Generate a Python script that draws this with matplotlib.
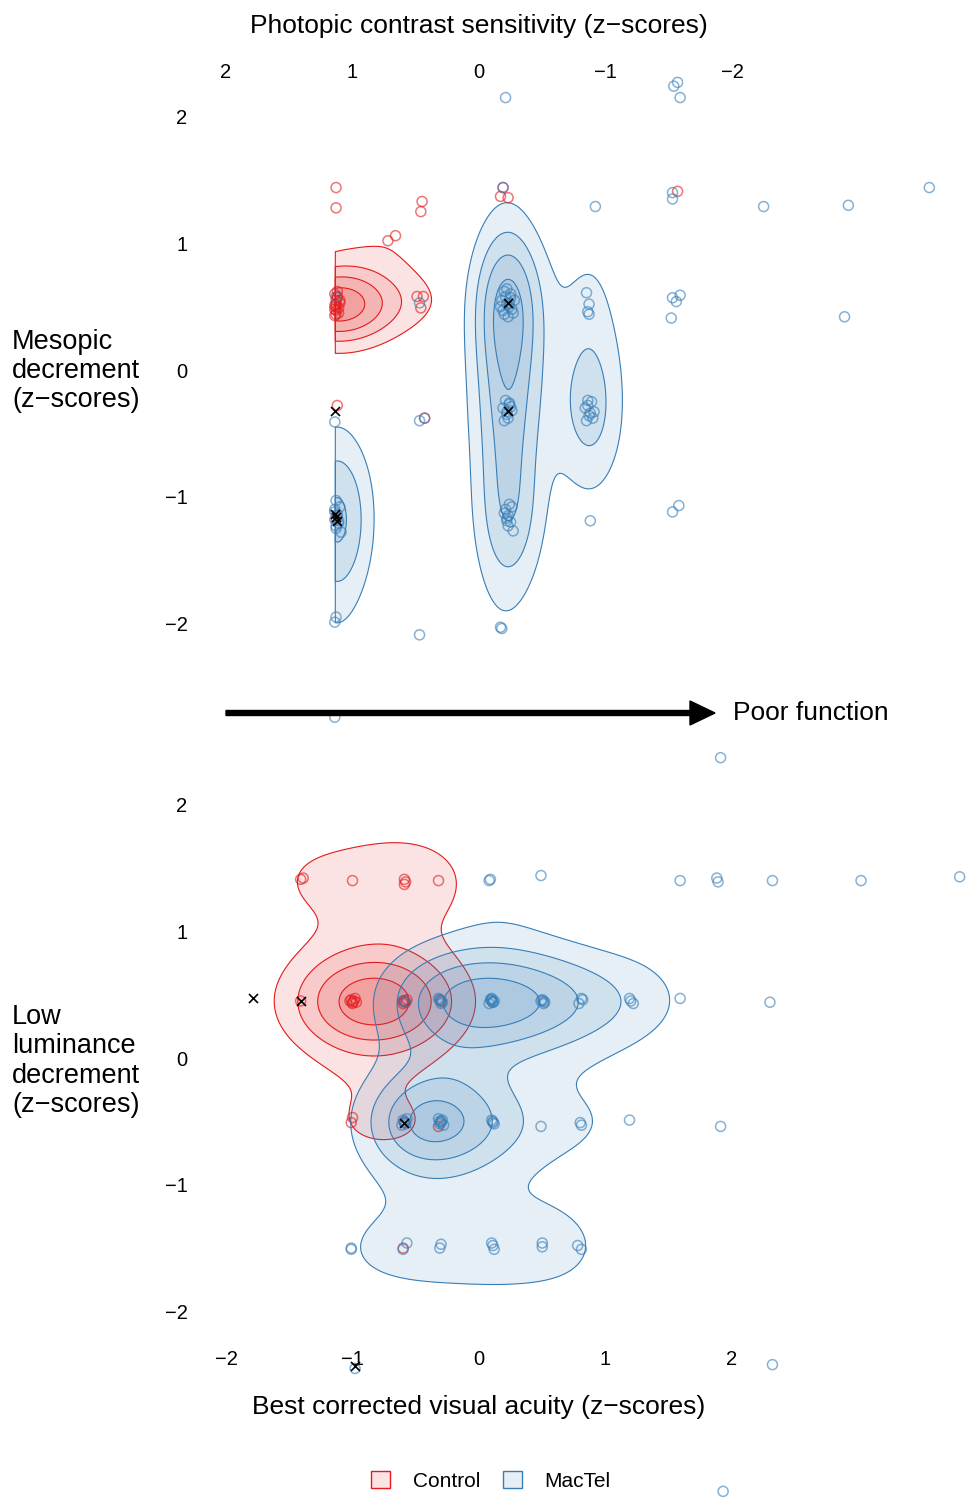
import numpy as np
import matplotlib
matplotlib.use('Agg')
import matplotlib.pyplot as plt
from matplotlib.patches import Patch, FancyArrow

plt.rcParams['font.family'] = ['Liberation Sans', 'DejaVu Sans']

RED = '#E41A1C'
BLUE = '#377EB8'

# ---- top panel: photopic contrast sensitivity (x, reversed) vs mesopic decrement (y)
ctl_top_x = [1.13, 1.13, 0.45, 0.46, 0.72, 0.66, -0.19, -0.17, -0.23, -1.57,
             1.14, 1.12, 1.13, 1.10, 1.13, 1.14, 1.11, 1.14, 1.12, 1.13, 1.13, 1.10,
             1.12, 1.14, 1.11, 1.13,
             0.49, 0.44, 0.46, 1.12, 0.43, 1.13]
ctl_top_y = [1.44, 1.28, 1.33, 1.25, 1.02, 1.06, 1.44, 1.37, 1.36, 1.41,
             0.60, 0.57, 0.55, 0.53, 0.50, 0.48, 0.45, 0.43, 0.58, 0.52, 0.47, 0.55,
             0.62, 0.51, 0.49, 0.44,
             0.58, 0.58, 0.49, -0.28, -0.38, -1.18]

mac_top_x = [-0.21, -1.54, -1.57, -1.59, -0.19, -0.92, -1.53, -1.53, -2.25, -2.92, -3.56,
             -0.85, -0.87, -0.86, -0.87, -1.53, -1.56, -1.59, -1.52, -2.89,
             -0.20, -0.25, -0.18, -0.28, -0.22, -0.24, -0.19, -0.27,
             -0.23, -0.21, -0.26, -0.17, -0.22, -0.24, -0.20, -0.25,
             -0.21, -0.24, -0.19, -0.26, -0.22, -0.23, -0.20, -0.25, -0.22, -0.24,
             -0.86, -0.89, -0.84, -0.91, -0.87, -0.90, -0.85, -0.88, -0.86,
             -0.24, -0.26, -0.20, -0.22, -0.25, -0.23, -0.27, -0.21, -0.23, -0.22,
             -0.88, -1.53, -1.58, -0.17, -0.18, 0.47, 1.14,
             1.13, 1.10, 1.14, 1.12, 1.14, 1.11, 1.13, 1.09, 1.12, 1.14, 1.11, 1.13,
             1.14, 1.13, 1.14, 0.47, 0.43, 0.47, 1.13]
mac_top_y = [2.15, 2.24, 2.27, 2.15, 1.44, 1.29, 1.40, 1.35, 1.29, 1.30, 1.44,
             0.61, 0.52, 0.46, 0.44, 0.57, 0.54, 0.59, 0.41, 0.42,
             0.62, 0.60, 0.55, 0.55, 0.52, 0.50, 0.47, 0.45,
             0.42, 0.58, 0.48, 0.50, 0.64, 0.53, 0.44, 0.57,
             -0.24, -0.27, -0.30, -0.32, -0.35, -0.38, -0.40, -0.29, -0.33, -0.26,
             -0.24, -0.25, -0.30, -0.33, -0.36, -0.38, -0.40, -0.34, -0.28,
             -1.06, -1.08, -1.13, -1.17, -1.20, -1.23, -1.27, -1.10, -1.15, -1.19,
             -1.19, -1.12, -1.07, -2.03, -2.04, -2.09, -2.74,
             -1.03, -1.08, -1.12, -1.15, -1.18, -1.21, -1.25, -1.28, -1.14, -1.10, -1.19, -1.23,
             -0.41, -1.95, -1.99, -0.40, -0.38, 0.53, 0.58]

cross_top_x = [1.14, 1.13, 1.14, 1.12, -0.23, -0.23]
cross_top_y = [-0.32, -1.16, -1.14, -1.19, 0.53, -0.32]

# ---- bottom panel: best corrected visual acuity (x) vs low luminance decrement (y)
ctl_bot_x = [-1.41, -1.39, -1.00, -0.59, -0.58, -0.59, -0.32,
             -1.41, -1.02, -1.00, -0.98, -0.97, -1.01, -0.99, -1.00,
             -0.60, -0.58, -0.57, -0.59, -0.60, -0.30,
             -1.01, -1.00, -0.59, -0.32, -0.60]
ctl_bot_y = [1.41, 1.42, 1.40, 1.41, 1.39, 1.37, 1.40,
             0.45, 0.45, 0.43, 0.47, 0.44, 0.46, 0.45, 0.44,
             0.45, 0.44, 0.46, 0.45, 0.43, 0.45,
             -0.51, -0.47, -0.51, -0.54, -1.50]

mac_bot_x = [0.08, 0.09, 0.49, 1.59, 1.88, 1.89, 2.32, 3.02, 3.80, 1.91,
             -0.60, -0.58,
             -0.31, -0.30, -0.32, -0.29, -0.30, -0.31,
             0.10, 0.09, 0.11, 0.10, 0.12, 0.08, 0.10, 0.11,
             0.51, 0.50, 0.52, 0.51, 0.49,
             0.81, 0.82, 0.79, 1.19, 1.22, 1.20, 1.59, 2.30,
             -0.59, -0.60, -0.58, -0.59, -0.61, -0.57,
             -0.30, -0.31, -0.29, -0.30, -0.28, -0.32, -0.31,
             0.11, 0.10, 0.12, 0.11,
             0.49, 0.80, 0.81, 1.19, 1.91,
             -1.01, -1.01, -0.60, -0.57, -0.31, -0.30,
             0.10, 0.11, 0.12, 0.50, 0.50, 0.78, 0.81,
             2.32, -0.98, 1.93]
mac_bot_y = [1.40, 1.41, 1.44, 1.40, 1.42, 1.39, 1.40, 1.40, 1.43, 2.37,
             0.45, 0.44,
             0.46, 0.45, 0.47, 0.44, 0.43, 0.46,
             0.45, 0.46, 0.44, 0.47, 0.45, 0.43, 0.46, 0.44,
             0.45, 0.46, 0.44, 0.43, 0.45,
             0.47, 0.46, 0.43, 0.47, 0.43, 0.45, 0.47, 0.44,
             -0.51, -0.49, -0.52, -0.50, -0.53, -0.48,
             -0.50, -0.52, -0.49, -0.51, -0.53, -0.48, -0.50,
             -0.51, -0.49, -0.52, -0.50,
             -0.54, -0.51, -0.53, -0.49, -0.54,
             -1.51, -1.50, -1.51, -1.46, -1.50, -1.47,
             -1.46, -1.48, -1.51, -1.46, -1.49, -1.48, -1.51,
             -2.42, -2.45, -3.42]

cross_bot_x = [-1.79, -1.41, -0.59, -0.98]
cross_bot_y = [0.47, 0.45, -0.51, -2.43]

ticks = [-2, -1, 0, 1, 2]
level_frac = [0.25, 0.45, 0.65, 0.85]


def kde2d(x, y, gx, gy, hx, hy):
    x = np.asarray(x)
    y = np.asarray(y)
    kx = np.exp(-0.5 * ((gx[:, None] - x[None, :]) / hx) ** 2) / (hx * np.sqrt(2 * np.pi))
    ky = np.exp(-0.5 * ((gy[:, None] - y[None, :]) / hy) ** 2) / (hy * np.sqrt(2 * np.pi))
    return ky @ kx.T / len(x)


def density_layers(ax, x, y, rng, bw, color):
    gx = np.linspace(rng[0], rng[1], 250)
    gy = np.linspace(rng[2], rng[3], 250)
    z = kde2d(x, y, gx, gy, *bw)
    fill = matplotlib.colors.to_rgba(color, 0.12)
    for f in level_frac:
        cs = ax.contourf(gx, gy, z, levels=[f * z.max(), z.max() * 2], colors=[fill], zorder=2)
        cs.set_edgecolor(color)
        cs.set_linewidth(0.8)


def panel(ax, ctl, mac, cross, bw_ctl, bw_mac):
    allx = np.concatenate([ctl[0], mac[0], cross[0]])
    ally = np.concatenate([ctl[1], mac[1], cross[1]])
    rng = (allx.min(), allx.max(), ally.min(), ally.max())
    density_layers(ax, ctl[0], ctl[1], rng, bw_ctl, RED)
    density_layers(ax, mac[0], mac[1], rng, bw_mac, BLUE)
    ax.scatter(ctl[0], ctl[1], s=52, facecolors='none', edgecolors=RED, linewidths=1.1,
               alpha=0.6, zorder=3, clip_on=False)
    ax.scatter(mac[0], mac[1], s=52, facecolors='none', edgecolors=BLUE, linewidths=1.1,
               alpha=0.6, zorder=3, clip_on=False)
    ax.scatter(cross[0], cross[1], s=42, marker='x', color='black', linewidths=1.2,
               zorder=4, clip_on=False)
    ax.set_xticks(ticks)
    ax.set_yticks(ticks)
    ax.set_xticklabels([str(t).replace('-', '\u2212') for t in ticks])
    ax.set_yticklabels([str(t).replace('-', '\u2212') for t in ticks])
    ax.tick_params(length=0, labelsize=14.5, pad=5)
    for s in ax.spines.values():
        s.set_visible(False)
    ax.set_facecolor('none')


W, H = 967, 1499
fig = plt.figure(figsize=(W / 100, H / 100), dpi=100)

L, R = 194.4, 763.6
ax1 = fig.add_axes([L / W, 1 - 655.1 / H, (R - L) / W, 570.2 / H])
ax2 = fig.add_axes([L / W, 1 - 1343.1 / H, (R - L) / W, 570.2 / H])

panel(ax1, (ctl_top_x, ctl_top_y), (mac_top_x, mac_top_y), (cross_top_x, cross_top_y),
      (0.32, 0.22), (0.20, 0.45))
ax1.set_xlim(2.25, -2.25)
ax1.set_ylim(-2.25, 2.25)
ax1.xaxis.tick_top()
ax1.tick_params(axis='x', pad=2)
ax1.xaxis.set_label_position('top')
ax1.set_xlabel('Photopic contrast sensitivity (z\u2212scores)', fontsize=19, labelpad=22)

panel(ax2, (ctl_bot_x, ctl_bot_y), (mac_bot_x, mac_bot_y), (cross_bot_x, cross_bot_y),
      (0.38, 0.31), (0.34, 0.32))
ax2.set_xlim(-2.25, 2.25)
ax2.set_ylim(-2.25, 2.25)
ax2.set_xlabel('Best corrected visual acuity (z\u2212scores)', fontsize=19, labelpad=18.5)

fig.text(12 / W, 1 - 371 / H, 'Mesopic\ndecrement\n(z\u2212scores)', fontsize=19.5,
         ha='left', va='center', linespacing=1.17)
fig.text(12 / W, 1 - 1061 / H, 'Low\nluminance\ndecrement\n(z\u2212scores)', fontsize=19.5,
         ha='left', va='center', linespacing=1.17)

# arrow between the panels
fig.add_artist(FancyArrow(226 / W, 1 - 713 / H, (715 - 226) / W, 0, width=5 / H,
                          head_width=24 / H, head_length=25 / W, length_includes_head=True,
                          color='black', transform=fig.transFigure))
fig.text(733 / W, 1 - 713 / H, 'Poor function', fontsize=19, ha='left', va='center')

handles = [Patch(facecolor=matplotlib.colors.to_rgba(RED, 0.12), edgecolor=RED, label='Control'),
           Patch(facecolor=matplotlib.colors.to_rgba(BLUE, 0.12), edgecolor=BLUE, label='MacTel')]
fig.legend(handles=handles, loc='center', bbox_to_anchor=(491 / W, 1 - 1481 / H), ncol=2,
           frameon=False, fontsize=15, handlelength=0.9, handleheight=0.9,
           handletextpad=1.1, columnspacing=1.1)

fig.savefig('out.png', dpi=100)
